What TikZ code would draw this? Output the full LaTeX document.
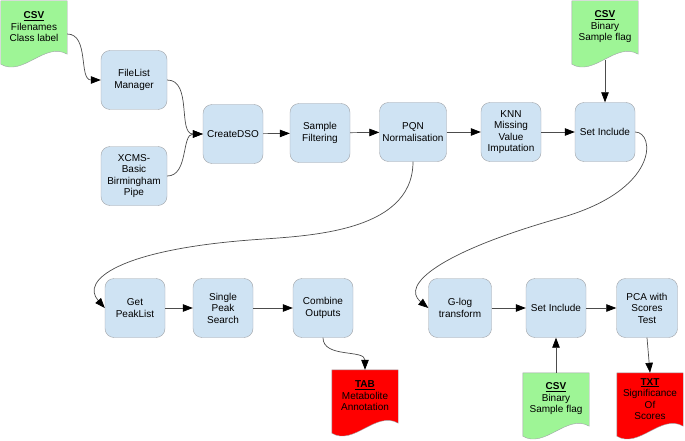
\documentclass[tikz,border=0pt]{standalone}
\usepackage{fontspec}
\setmainfont{Liberation Sans}
\usetikzlibrary{arrows.meta, calc, backgrounds}
\definecolor{cStep}{RGB}{207,227,243}
\definecolor{cIn}{RGB}{158,245,150}
\definecolor{cOut}{RGB}{255,0,0}
\definecolor{cEdge}{RGB}{160,163,168}
% document symbol: node box plus a wavy bottom
\newcommand{\docwave}[2]{%
  \filldraw[fill=#2, draw=cEdge, thin] (#1.north west) -- (#1.north east)
    -- ($(#1.south east)+(0,-1)$)
    .. controls ($(#1.south east)+(-22,12)$) and ($(#1.south west)+(22,-24)$)
    .. ($(#1.south west)+(0,-11)$) -- cycle;}

\begin{document}
\begin{tikzpicture}[x=1pt, y=1pt,
            proc/.style={rectangle, rounded corners=9pt, draw=cEdge, fill=cStep, thin,
                         minimum height=59pt, align=center, inner sep=1pt,
                         font=\fontsize{10}{11.5}\selectfont},
            doc/.style={rectangle, minimum width=66pt, minimum height=52pt, align=center,
                        inner sep=1pt, font=\fontsize{10}{11.5}\selectfont},
            arr/.style={draw=black!70, line width=0.7pt, -{Triangle[length=10pt, width=7.5pt, black]}}]
            \useasboundingbox (0,0) rectangle (685,-441);
            % processing steps
            \foreach \nm/\x/\y/\w/\t in {fl/134/80/66/{FileList\\Manager},
                                         xcms/134/176/66/{XCMS-\\Basic\\Birmingham\\Pipe},
                                         dso/233/134/60/{CreateDSO},
                                         filt/320/133/60/{Sample\\Filtering},
                                         pqn/413/132/67/{PQN\\Normalisation},
                                         knn/511/132/60/{KNN\\Missing\\Value\\Imputation},
                                         incA/605/132/60/{Set Include},
                                         gpl/135/308/60/{Get\\PeakList},
                                         sps/223/308/60/{Single\\Peak\\Search},
                                         comb/323/308/60/{Combine\\Outputs},
                                         glog/460/308/63/{G-log\\transform},
                                         incB/556/308/60/{Set Include},
                                         pca/647/308/61/{PCA with\\Scores\\Test}}{
                \node[proc, minimum width=\w pt] (\nm) at (\x,-\y) {\t};}
            % input and output files
            \foreach \nm/\x/\y/\t in {csvA/34/27/{\underline{\textbf{CSV}}\\Filenames\\Class label},
                                      csvB/605/27/{\underline{\textbf{CSV}}\\Binary\\Sample flag},
                                      tab/365/396/{\underline{\textbf{TAB}}\\Metabolite\\Annotation},
                                      csvC/556/399/{\underline{\textbf{CSV}}\\Binary\\Sample flag},
                                      txt/650/399/{\underline{\textbf{TXT}}\\Significance\\Of\\Scores}}{
                \node[doc] (\nm) at (\x,-\y) {\t};}
            \begin{scope}[on background layer]
            \foreach \nm/\c in {csvA/cIn, csvB/cIn, csvC/cIn, tab/cOut, txt/cOut}{
                \docwave{\nm}{\c}}
            \end{scope}
            % connectors
            \draw[arr] ([yshift=-7pt]csvA.east) to[out=0, in=180] (fl.west);
            \draw[arr] (fl.east) to[out=0, in=180] (dso.west);
            \draw[arr] (xcms.east) to[out=0, in=180] (dso.west);
            \draw[arr] (dso) -- (filt);
            \draw[arr] (filt) -- (pqn);
            \draw[arr] (pqn) -- (knn);
            \draw[arr] (knn) -- (incA);
            \draw[arr] ([yshift=-7pt]csvB.south) -- (incA);
            \draw[arr] (pqn.south) .. controls (413,-235) and (300,-236) .. (250,-240)
                .. controls (120,-250) and (80,-280) .. (gpl.west);
            \draw[arr] (gpl) -- (sps);
            \draw[arr] (sps) -- (comb);
            \draw[arr] (comb.south) to[out=-90, in=90] (tab.north);
            \draw[arr] (incA.east) .. controls (655,-132) and (660,-190) .. (560,-218)
                .. controls (440,-252) and (400,-285) .. (glog.west);
            \draw[arr] (glog) -- (incB);
            \draw[arr] (incB) -- (pca);
            \draw[arr] (csvC.north) -- (incB.south);
            \draw[arr] (pca.south) -- (txt.north);
        \end{tikzpicture}
\end{document}
